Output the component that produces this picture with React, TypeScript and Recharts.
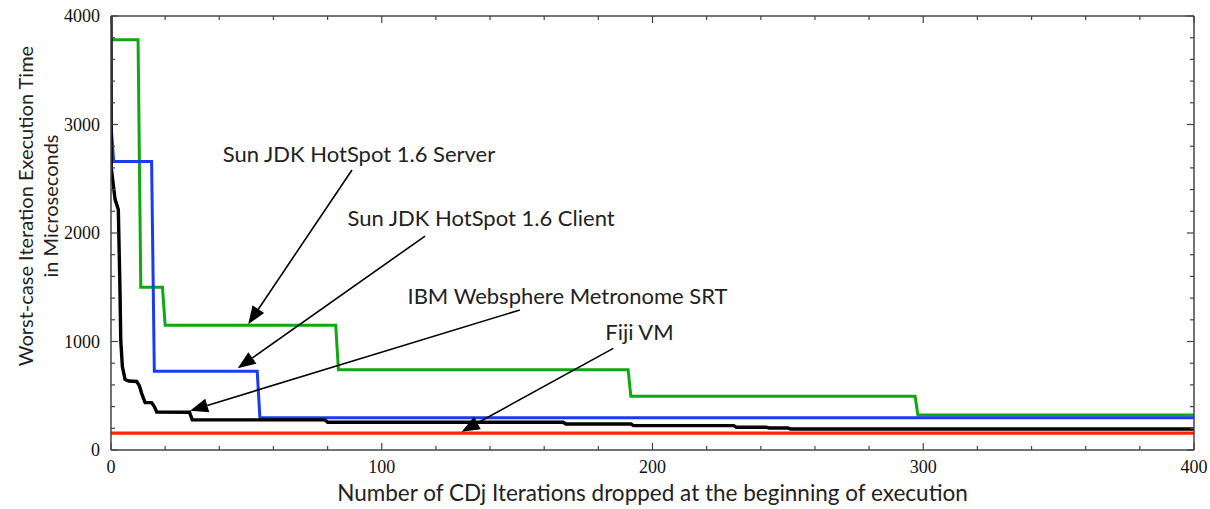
import React from 'react';
import { LineChart, Line, XAxis, YAxis, ReferenceLine, ReferenceDot } from 'recharts';

// ---- Series data (iterations dropped -> worst-case time in microseconds) ----
const serverX = [0, 10, 11, 19, 20, 83, 84, 191, 192, 297, 298, 400];
const serverY = [3780, 3780, 1500, 1500, 1150, 1150, 740, 740, 495, 495, 323, 323];

const clientX = [0, 1, 15, 16, 54, 55, 400];
const clientY = [3000, 2660, 2660, 725, 725, 298, 298];

const ibmX = [0, 0.1, 1.5, 2.7, 3.3, 3.6, 4.2, 5.2, 6.5, 9.5, 10.5, 11.3, 12.6, 15, 16, 16.9, 29, 30, 79, 80, 167, 168, 192, 193, 230, 231, 242, 243, 250, 251, 400];
const ibmY = [4000, 2600, 2310, 2216, 1500, 1015, 769, 650, 636, 632, 590, 523, 437, 437, 400, 350, 348, 278, 278, 256, 256, 240, 240, 225, 225, 210, 210, 203, 203, 193, 193];

const fijiX = [0, 400];
const fijiY = [155, 155];

// ---- Axis ticks ----
const xTicks = [0, 20, 40, 60, 80, 100, 120, 140, 160, 180, 200, 220, 240, 260, 280, 300, 320, 340, 360, 380, 400];
const yTicks = [0, 200, 400, 600, 800, 1000, 1200, 1400, 1600, 1800, 2000, 2200, 2400, 2600, 2800, 3000, 3200, 3400, 3600, 3800, 4000];

// ---- Annotations ----
const labelTexts = ['Sun JDK HotSpot 1.6 Server', 'Sun JDK HotSpot 1.6 Client', 'IBM Websphere Metronome SRT', 'Fiji VM'];
const labelX = [91.6, 136.7, 168.6, 195.2];
const labelY = [2654, 2065, 1346, 1014];
const arrowFromX = [89.0, 116, 151, 185.5];
const arrowFromY = [2581, 1972, 1290, 937];
const arrowToX = [50.7, 46.8, 29.2, 129.5];
const arrowToY = [1160, 753, 362, 169];

const toPoints = (xs: number[], ys: number[]) => xs.map((x, i) => ({ x, y: ys[i] }));

const serverData = toPoints(serverX, serverY);
const clientData = toPoints(clientX, clientY);
const ibmData = toPoints(ibmX, ibmY);
const fijiData = toPoints(fijiX, fijiY);

const FRAME = '#444';
const SANS = 'Lato, "Noto Sans", sans-serif';
const SERIF = '"Liberation Serif", "Times New Roman", serif';

const BottomTick = (p: any) => {
  const { x, y, payload } = p;
  const major = payload.value % 100 === 0;
  return (
    <g>
      <line x1={x} x2={x} y1={y} y2={y - (major ? 7 : 4)} stroke={FRAME} strokeWidth={1.2} />
      {major && (
        <text x={x} y={y + 23} textAnchor="middle" fontFamily={SERIF} fontSize={18} fill="#111">
          {payload.value}
        </text>
      )}
    </g>
  );
};

const TopTick = (p: any) => {
  const { x, y, payload } = p;
  const major = payload.value % 100 === 0;
  return <line x1={x} x2={x} y1={y} y2={y + (major ? 7 : 4)} stroke={FRAME} strokeWidth={1.2} />;
};

const LeftTick = (p: any) => {
  const { x, y, payload } = p;
  const major = payload.value % 1000 === 0;
  return (
    <g>
      <line x1={x} x2={x + (major ? 7 : 4)} y1={y} y2={y} stroke={FRAME} strokeWidth={1.2} />
      {major && (
        <text x={x - 11} y={y} dy="0.35em" textAnchor="end" fontFamily={SERIF} fontSize={18} fill="#111">
          {payload.value}
        </text>
      )}
    </g>
  );
};

const RightTick = (p: any) => {
  const { x, y, payload } = p;
  const major = payload.value % 1000 === 0;
  return <line x1={x} x2={x - (major ? 7 : 4)} y1={y} y2={y} stroke={FRAME} strokeWidth={1.2} />;
};

const XTitle = (p: any) => {
  const vb = p.viewBox;
  return (
    <text x={vb.x + vb.width / 2} y={vb.y + 51} textAnchor="middle" fontFamily={SANS} fontSize={22.5} fill="#222">
      Number of CDj Iterations dropped at the beginning of execution
    </text>
  );
};

const YTitle = (p: any) => {
  const vb = p.viewBox;
  const cy = vb.y + 190;
  return (
    <g>
      <text transform={`translate(33, ${cy}) rotate(-90)`} textAnchor="middle" fontFamily={SANS} fontSize={20} fill="#222">
        Worst-case Iteration Execution Time
      </text>
      <text transform={`translate(58, ${cy}) rotate(-90)`} textAnchor="middle" fontFamily={SANS} fontSize={20} fill="#222">
        in Microseconds
      </text>
    </g>
  );
};

const Arrow = (p: any) => {
  const x1 = Number(p.x1), y1 = Number(p.y1), x2 = Number(p.x2), y2 = Number(p.y2);
  const dx = x2 - x1, dy = y2 - y1;
  const len = Math.hypot(dx, dy) || 1;
  const ux = dx / len, uy = dy / len;
  const hl = 18, hw = 7;
  const bx = x2 - ux * hl, by = y2 - uy * hl;
  return (
    <g>
      <line x1={x1} y1={y1} x2={bx} y2={by} stroke="#000" strokeWidth={1.6} />
      <polygon points={`${x2},${y2} ${bx - uy * hw},${by + ux * hw} ${bx + uy * hw},${by - ux * hw}`} fill="#000" />
    </g>
  );
};

const makeLabel = (text: string) => (p: any) => (
  <text x={p.cx} y={p.cy} textAnchor="middle" fontFamily={SANS} fontSize={22} fill="#222">
    {text}
  </text>
);

export default function App() {
  return (
    <div style={{ position: 'absolute', left: 0, top: 0, background: '#fff' }}>
      <LineChart width={1210} height={509} margin={{ top: 15, right: 15, left: 0, bottom: 0 }}>
        <XAxis
          xAxisId="main"
          type="number"
          dataKey="x"
          domain={[0, 400]}
          allowDataOverflow
          ticks={xTicks}
          interval={0}
          tickSize={0}
          tickMargin={0}
          tick={<BottomTick />}
          axisLine={{ stroke: FRAME, strokeWidth: 1.5 }}
          height={59}
          label={{ content: (p: any) => <XTitle {...p} /> }}
        />
        <XAxis
          xAxisId="top"
          orientation="top"
          type="number"
          dataKey="x"
          domain={[0, 400]}
          allowDataOverflow
          ticks={xTicks}
          interval={0}
          tickSize={0}
          tickMargin={0}
          tick={<TopTick />}
          axisLine={{ stroke: FRAME, strokeWidth: 1.5 }}
          height={1}
        />
        <YAxis
          yAxisId="main"
          type="number"
          domain={[0, 4000]}
          allowDataOverflow
          ticks={yTicks}
          interval={0}
          tickSize={0}
          tickMargin={0}
          tick={<LeftTick />}
          axisLine={{ stroke: FRAME, strokeWidth: 1.5 }}
          width={111}
          label={{ content: (p: any) => <YTitle {...p} /> }}
        />
        <YAxis
          yAxisId="right"
          orientation="right"
          type="number"
          domain={[0, 4000]}
          allowDataOverflow
          ticks={yTicks}
          interval={0}
          tickSize={0}
          tickMargin={0}
          tick={<RightTick />}
          axisLine={{ stroke: FRAME, strokeWidth: 1.5 }}
          width={1}
        />
        {/* invisible series so the top and right frame axes are drawn */}
        <Line xAxisId="top" yAxisId="right" data={fijiData} dataKey="y" type="linear" stroke="none" strokeWidth={0} dot={false} activeDot={false} isAnimationActive={false} />
        <Line xAxisId="main" yAxisId="main" data={fijiData} dataKey="y" type="linear" stroke="#ff2200" strokeWidth={3.2} dot={false} isAnimationActive={false} />
        <Line xAxisId="main" yAxisId="main" data={serverData} dataKey="y" type="linear" stroke="#10a810" strokeWidth={3} dot={false} isAnimationActive={false} />
        <Line xAxisId="main" yAxisId="main" data={clientData} dataKey="y" type="linear" stroke="#1a3cf0" strokeWidth={3} dot={false} isAnimationActive={false} />
        <Line xAxisId="main" yAxisId="main" data={ibmData} dataKey="y" type="linear" stroke="#000" strokeWidth={3.4} dot={false} isAnimationActive={false} />
        {labelTexts.map((t, i) => (
          <ReferenceLine
            key={'a' + i}
            xAxisId="main"
            yAxisId="main"
            segment={[{ x: arrowFromX[i], y: arrowFromY[i] }, { x: arrowToX[i], y: arrowToY[i] }]}
            shape={(p: any) => <Arrow {...p} />}
            ifOverflow="visible"
          />
        ))}
        {labelTexts.map((t, i) => (
          <ReferenceDot
            key={'l' + i}
            xAxisId="main"
            yAxisId="main"
            x={labelX[i]}
            y={labelY[i]}
            r={0}
            shape={makeLabel(t)}
            ifOverflow="visible"
          />
        ))}
      </LineChart>
    </div>
  );
}
